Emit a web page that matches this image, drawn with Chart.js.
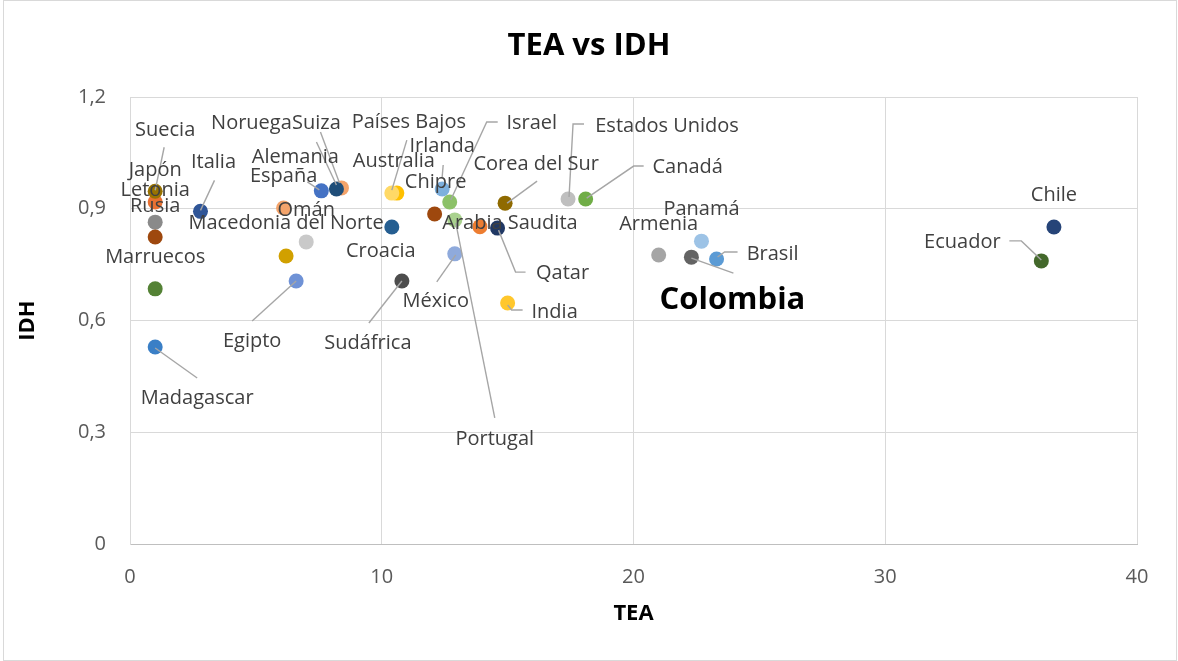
<!DOCTYPE html>
<html>
<head>
<meta charset="utf-8">
<script src="https://cdn.jsdelivr.net/npm/chart.js@4/dist/chart.umd.min.js"></script>
<style>
    html, body { margin: 0; padding: 0; background: #fff; }
    #wrap { width: 1178px; height: 661px; }
</style>
</head>
<body>
<div id="wrap"><canvas id="chart" width="1178" height="661"></canvas></div>
<script>
// Datos: TEA (eje x) e IDH (eje y) por país
const countries = [
    'Japón', 'Suecia', 'Letonia', 'Rusia', 'Marruecos', 'Madagascar', 'Italia', 'Egipto',
    'Macedonia del Norte', 'Omán', 'España', 'Alemania', 'Suiza', 'Noruega', 'Australia',
    'Países Bajos', 'Irlanda', 'Israel', 'Chipre', 'Portugal', 'Arabia Saudita', 'Qatar',
    'Croacia', 'México', 'Sudáfrica', 'Corea del Sur', 'India', 'Estados Unidos', 'Canadá',
    'Armenia', 'Panamá', 'Colombia', 'Brasil', 'Chile', 'Ecuador'
];
const tea = [
    1.0, 1.0, 1.0, 1.0, 1.0, 1.0, 2.8, 6.6,
    6.2, 7.0, 6.1, 7.6, 8.4, 8.2, 10.6,
    10.4, 12.4, 12.7, 12.1, 12.9, 13.9, 14.6,
    10.4, 12.9, 10.8, 14.9, 15.0, 17.4, 18.1,
    21.0, 22.7, 22.3, 23.3, 36.7, 36.2
];
const idh = [
    0.918, 0.947, 0.864, 0.824, 0.685, 0.529, 0.893, 0.706,
    0.773, 0.811, 0.902, 0.948, 0.956, 0.953, 0.942,
    0.942, 0.953, 0.918, 0.886, 0.870, 0.852, 0.848,
    0.851, 0.779, 0.706, 0.915, 0.647, 0.926, 0.926,
    0.776, 0.813, 0.770, 0.765, 0.851, 0.760
];
const xTickLabels = ['0', '10', '20', '30', '40'];
const yTickLabels = ['0', '0,3', '0,6', '0,9', '1,2'];
const chartTitle = 'TEA vs IDH';

// Colores de cada punto (paleta de Office, variada por punto)
const pointColors = [
    '#E97132', '#997300', '#8A8A8A', '#9E480E', '#548235', '#3A7FC6', '#2F5597', '#6F92D6',
    '#D1A000', '#C9C9C9', '#F4A46B', '#4472C4', '#F4A46B', '#1F4E79', '#FFC000',
    '#FFD966', '#7DB0DE', '#8CC168', '#9E480E', '#A9D18E', '#ED7D31', '#203864',
    '#255E91', '#8FAADC', '#4D4D4D', '#8F6A00', '#FFC72C', '#BFBFBF', '#70AD47',
    '#A5A5A5', '#9DC3E6', '#636363', '#5B9BD5', '#264478', '#43682B'
];

// Posición de cada etiqueta respecto a su punto (px) y líneas guía
const labelLayout = {
    'Japón':               { dx: 0,   dy: -32 },
    'Suecia':              { dx: 10,  dy: -61, leader: [[9, -44], [0, -1]] },
    'Letonia':             { dx: 0,   dy: -32 },
    'Rusia':               { dx: 0,   dy: -31 },
    'Marruecos':           { dx: 0,   dy: -32 },
    'Madagascar':          { dx: 42,  dy: 51,  leader: [[0, 1], [42, 31]] },
    'Italia':              { dx: 13,  dy: -49, leader: [[14, -31], [0, -1]] },
    'Egipto':              { dx: -44, dy: 60,  leader: [[-44, 40], [0, 0]] },
    'Macedonia del Norte': { dx: 0,   dy: -33 },
    'Omán':                { dx: 0,   dy: -32 },
    'España':              { dx: 0,   dy: -32 },
    'Alemania':            { dx: -26, dy: -34, leader: [[-14, -9], [-2, -1]] },
    'Suiza':               { dx: -25, dy: -65, leader: [[-21, -56], [-2, -5]] },
    'Noruega':             { dx: -85, dy: -66, leader: [[-20, -47], [0, -4]] },
    'Australia':           { dx: -3,  dy: -32 },
    'Países Bajos':        { dx: 17,  dy: -71, leader: [[15, -53], [0, -3]] },
    'Irlanda':             { dx: 0,   dy: -43, leader: [[1, -24], [0, -12]] },
    'Israel':              { dx: 82,  dy: -79, leader: [[48, -80], [37, -80], [1, -2]] },
    'Chipre':              { dx: 1,   dy: -32 },
    'Portugal':            { dx: 40,  dy: 219, leader: [[40, 198], [1, 3]] },
    'Arabia Saudita':      { dx: 30,  dy: -3 },
    'Qatar':               { dx: 65,  dy: 45,  leader: [[28, 44], [18, 44], [1, 2]] },
    'Croacia':             { dx: -11, dy: 24 },
    'México':              { dx: -19, dy: 47,  leader: [[-18, 28], [1, 1]] },
    'Sudáfrica':           { dx: -34, dy: 62,  leader: [[-33, 42], [0, 0]] },
    'Corea del Sur':       { dx: 31,  dy: -39, leader: [[32, -22], [2, 0]] },
    'India':               { dx: 47,  dy: 9,   leader: [[0, 2], [4, 7], [15, 7]] },
    'Estados Unidos':      { dx: 99,  dy: -73, leader: [[16, -75], [5, -75], [1, -2]] },
    'Canadá':              { dx: 102, dy: -32, leader: [[58, -33], [48, -33], [1, -1]] },
    'Armenia':             { dx: 0,   dy: -31 },
    'Panamá':              { dx: 0,   dy: -32 },
    'Colombia':            { dx: 41,  dy: 43,  leader: [[0, 1], [42, 16]], bold: true },
    'Brasil':              { dx: 56,  dy: -5,  leader: [[21, -7], [8, -7], [1, -2]] },
    'Chile':               { dx: 0,   dy: -32 },
    'Ecuador':             { dx: -79, dy: -19, leader: [[-32, -20], [-20, -20], [0, -1]] }
};

const FONT = "'Open Sans', 'Noto Sans', sans-serif";

const chartFrame = {
    id: 'chartFrame',
    beforeDraw(chart) {
        const ctx = chart.ctx;
        ctx.save();
        ctx.fillStyle = '#fff';
        ctx.fillRect(0, 0, chart.width, chart.height);
        ctx.strokeStyle = '#D9D9D9';
        ctx.lineWidth = 1;
        ctx.strokeRect(3.5, 0.5, chart.width - 5, chart.height - 1);
        ctx.restore();
    },
    afterDraw(chart) {
        // título centrado sobre todo el gráfico
        const ctx = chart.ctx;
        ctx.save();
        ctx.font = 'bold 31px ' + FONT;
        ctx.fillStyle = '#000';
        ctx.textAlign = 'center';
        ctx.textBaseline = 'middle';
        ctx.fillText(chartTitle, chart.width / 2, 46);
        ctx.restore();
    }
};

const countryLabels = {
    id: 'countryLabels',
    afterDatasetsDraw(chart) {
        const ctx = chart.ctx;
        const meta = chart.getDatasetMeta(0);
        ctx.save();
        ctx.strokeStyle = '#A6A6A6';
        ctx.lineWidth = 1.4;
        meta.data.forEach((pt, i) => {
            const lay = labelLayout[countries[i]];
            if (!lay || !lay.leader) return;
            ctx.beginPath();
            lay.leader.forEach(([dx, dy], k) => {
                if (k === 0) ctx.moveTo(pt.x + dx, pt.y + dy);
                else ctx.lineTo(pt.x + dx, pt.y + dy);
            });
            ctx.stroke();
        });
        ctx.textAlign = 'center';
        ctx.textBaseline = 'middle';
        meta.data.forEach((pt, i) => {
            const lay = labelLayout[countries[i]];
            if (!lay) return;
            if (lay.bold) {
                ctx.font = 'bold 31px ' + FONT;
                ctx.fillStyle = '#000';
            } else {
                ctx.font = '20px ' + FONT;
                ctx.fillStyle = '#404040';
            }
            ctx.fillText(countries[i], pt.x + lay.dx, pt.y + lay.dy);
        });
        ctx.restore();
    }
};

new Chart(document.getElementById('chart'), {
    type: 'scatter',
    data: {
        datasets: [{
            label: 'IDH',
            data: tea.map((x, i) => ({ x, y: idh[i] })),
            backgroundColor: pointColors,
            borderWidth: 0,
            pointRadius: 7.5,
            pointHoverRadius: 7.5
        }]
    },
    options: {
        responsive: false,
        animation: false,
        layout: { padding: { left: 0, right: 41, top: 97, bottom: 0 } },
        plugins: {
            legend: { display: false },
            tooltip: { enabled: false },
            title: { display: false }
        },
        scales: {
            x: {
                type: 'linear',
                min: 0,
                max: 40,
                ticks: {
                    stepSize: 10,
                    padding: 21,
                    color: '#595959',
                    font: { family: FONT, size: 20 },
                    callback: (v, i) => xTickLabels[i]
                },
                grid: { color: '#D9D9D9', drawTicks: false },
                border: { color: '#BFBFBF' },
                title: {
                    display: true,
                    text: 'TEA',
                    color: '#000',
                    font: { family: FONT, size: 22, weight: 'bold' },
                    padding: { bottom: 34 }
                },
                afterFit: s => { s.height = 117; }
            },
            y: {
                type: 'linear',
                min: 0,
                max: 1.2,
                ticks: {
                    stepSize: 0.3,
                    padding: 24,
                    color: '#595959',
                    font: { family: FONT, size: 20 },
                    callback: (v, i) => yTickLabels[i]
                },
                grid: { color: '#D9D9D9', drawTicks: false },
                border: { color: '#D9D9D9' },
                title: {
                    display: true,
                    text: 'IDH',
                    color: '#000',
                    font: { family: FONT, size: 22, weight: 'bold' },
                    padding: { top: 15 }
                },
                afterFit: s => { s.width = 130; }
            }
        }
    },
    plugins: [chartFrame, countryLabels]
});
</script>
</body>
</html>
